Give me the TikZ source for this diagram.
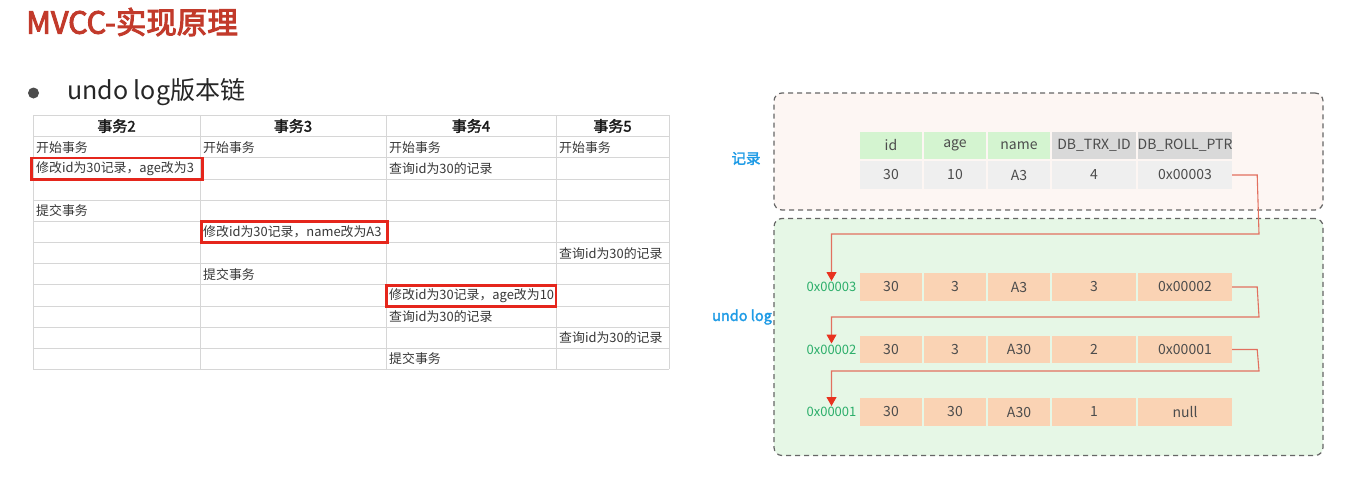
\documentclass[tikz,border=0pt]{standalone}
\usepackage{fontspec}
\newfontfamily\cjk{Noto Sans CJK SC}[AutoFakeBold=2]
\newfontfamily\cjkheavy{Noto Sans CJK SC}[FakeBold=3.2]
\usetikzlibrary{arrows.meta}
\definecolor{titlered}{HTML}{C23A2B}
\definecolor{labelblue}{HTML}{1E9BE6}
\definecolor{addrgreen}{HTML}{2BAE6A}
\definecolor{hdrgreen}{HTML}{D4F4D0}
\definecolor{hdrgray}{HTML}{D9D9D9}
\definecolor{datagray}{HTML}{EFEFEF}
\definecolor{peach}{HTML}{FAD3B4}
\definecolor{recfill}{HTML}{FDF6F3}
\definecolor{undofill}{HTML}{E6F7E6}
\definecolor{gridgray}{HTML}{D6D6D6}
\definecolor{linkred}{HTML}{E2705F}
\definecolor{tipred}{HTML}{E8321F}
\definecolor{hlred}{HTML}{E5261C}
\begin{document}
\begin{tikzpicture}[x=1pt,y=-1pt,
  every node/.style={font=\cjk},
  celltext/.style={anchor=west,inner sep=0pt,font=\cjk\fontsize{12.9}{15}\selectfont,text=black!78},
  headtext/.style={inner sep=0pt,font=\cjk\bfseries\fontsize{15}{17}\selectfont,text=black!90},
  hilite/.style={draw=hlred,line width=2.3pt},
  panel/.style={draw=black!60,dashed,line width=1.2pt,rounded corners=8pt,dash pattern=on 5pt off 4pt},
  field/.style={inner sep=0pt,minimum height=27.5pt,text=black!70,font=\cjk\fontsize{14}{16}\selectfont},
  addr/.style={inner sep=1pt,text=addrgreen,font=\cjk\fontsize{13}{15}\selectfont},
  tag/.style={text=labelblue,font=\cjk\bfseries\fontsize{14.5}{16}\selectfont},
  link/.style={draw=linkred,line width=1.1pt,-{Triangle[length=9pt,width=10pt,fill=tipred,color=tipred]}},
]
\useasboundingbox[fill=white] (0,0) rectangle (1346,479);

% heading and bullet
\node[anchor=west,inner sep=0pt,text=titlered,font=\cjkheavy\fontsize{30.5}{33}\selectfont] (title) at (26,22) {MVCC-实现原理};
\node[circle,fill=black!70,inner sep=0pt,minimum size=11pt] (dot) at (33.5,93) {};
\node[anchor=west,inner sep=0pt,text=black!85,font=\cjk\fontsize{25}{27}\selectfont] (sub) at (67,92) {undo log版本链};

% transaction table grid
\def\rowtop{136.7}
\def\rowh{21.15}
\foreach \k in {0,...,11}
  \draw[gridgray,line width=0.8pt] (33,\rowtop+\k*\rowh) -- (669,\rowtop+\k*\rowh);
\draw[gridgray,line width=0.8pt] (33,115) -- (669,115);
\foreach \cx in {33,200,386,556,669}
  \draw[gridgray,line width=0.8pt] (\cx,115) -- (\cx,\rowtop+11*\rowh);

% header
\node[headtext] (h2) at (116.5,126) {事务2};
\node[headtext] (h3) at (293,126) {事务3};
\node[headtext] (h4) at (471,126) {事务4};
\node[headtext] (h5) at (612.5,126) {事务5};

% row centres: \rowtop + (k-0.5)*\rowh
\node[celltext] (c11) at (36,147.3) {开始事务};
\node[celltext] (c12) at (203,147.3) {开始事务};
\node[celltext] (c13) at (389,147.3) {开始事务};
\node[celltext] (c14) at (559,147.3) {开始事务};
\node[celltext] (c21) at (36,168.4) {修改id为30记录，age改为3};
\node[celltext] (c23) at (389,168.4) {查询id为30的记录};
\node[celltext] (c41) at (36,210.8) {提交事务};
\node[celltext] (c52) at (203,231.9) {修改id为30记录，name改为A3};
\node[celltext] (c64) at (559,253.1) {查询id为30的记录};
\node[celltext] (c72) at (203,274.2) {提交事务};
\node[celltext] (c83) at (389,295.4) {修改id为30记录，age改为10};
\node[celltext] (c93) at (389,316.5) {查询id为30的记录};
\node[celltext] (c104) at (559,337.7) {查询id为30的记录};
\node[celltext] (c113) at (389,358.8) {提交事务};

% highlighted write operations
\draw[hilite] (31.5,158) rectangle (202.5,179.5);
\draw[hilite] (201.5,221.5) rectangle (387.5,242.5);
\draw[hilite] (386.5,285.5) rectangle (556,306.5);

% record and undo log panels
\node[panel,fill=recfill,minimum width=549pt,minimum height=117pt] (recbox) at (1048.5,151.5) {};
\node[panel,fill=undofill,minimum width=549pt,minimum height=237pt] (undobox) at (1048.5,337) {};
\node[tag] (rectag) at (746,158.5) {记录};
\node[tag] (undotag) at (742,317) {undo log};

% current record
\node[field,fill=hdrgreen,minimum width=62pt] (r0c1) at (891,145.5) {id};
\node[field,fill=hdrgreen,minimum width=62pt] (r0c2) at (955,145.5) {age};
\node[field,fill=hdrgreen,minimum width=62pt] (r0c3) at (1019,145.5) {name};
\node[field,fill=hdrgray,minimum width=84pt] (r0c4) at (1094,145.5) {DB\_TRX\_ID};
\node[field,fill=hdrgray,minimum width=94pt] (r0c5) at (1185,145.5) {DB\_ROLL\_PTR};
\node[field,fill=datagray,minimum width=62pt] (r1c1) at (891,175) {30};
\node[field,fill=datagray,minimum width=62pt] (r1c2) at (955,175) {10};
\node[field,fill=datagray,minimum width=62pt] (r1c3) at (1019,175) {A3};
\node[field,fill=datagray,minimum width=84pt] (r1c4) at (1094,175) {4};
\node[field,fill=datagray,minimum width=94pt] (r1c5) at (1185,175) {0x00003};

% undo log entries
\node[addr] (a3) at (831.5,287) {0x00003};
\node[field,fill=peach,minimum width=62pt] (u1c1) at (891,287) {30};
\node[field,fill=peach,minimum width=62pt] (u1c2) at (955,287) {3};
\node[field,fill=peach,minimum width=62pt] (u1c3) at (1019,287) {A3};
\node[field,fill=peach,minimum width=84pt] (u1c4) at (1094,287) {3};
\node[field,fill=peach,minimum width=94pt] (u1c5) at (1185,287) {0x00002};

\node[addr] (a2) at (831.5,349.5) {0x00002};
\node[field,fill=peach,minimum width=62pt] (u2c1) at (891,349.5) {30};
\node[field,fill=peach,minimum width=62pt] (u2c2) at (955,349.5) {3};
\node[field,fill=peach,minimum width=62pt] (u2c3) at (1019,349.5) {A30};
\node[field,fill=peach,minimum width=84pt] (u2c4) at (1094,349.5) {2};
\node[field,fill=peach,minimum width=94pt] (u2c5) at (1185,349.5) {0x00001};

\node[addr] (a1) at (831.5,412) {0x00001};
\node[field,fill=peach,minimum width=62pt] (u3c1) at (891,412) {30};
\node[field,fill=peach,minimum width=62pt] (u3c2) at (955,412) {30};
\node[field,fill=peach,minimum width=62pt] (u3c3) at (1019,412) {A30};
\node[field,fill=peach,minimum width=84pt] (u3c4) at (1094,412) {1};
\node[field,fill=peach,minimum width=94pt] (u3c5) at (1185,412) {null};

% roll pointers
\coordinate (k1) at (1259,234);
\coordinate (k2) at (1259,317);
\coordinate (k3) at (1259,371);
\draw[link] (r1c5.east) -- ++(25,0) -- (k1) -- (a3.north |- k1) -- (a3.north);
\draw[link] (u1c5.east) -- ++(25,0) -- (k2) -- (a2.north |- k2) -- (a2.north);
\draw[link] (u2c5.east) -- ++(25,0) -- (k3) -- (a1.north |- k3) -- (a1.north);
\end{tikzpicture}
\end{document}
